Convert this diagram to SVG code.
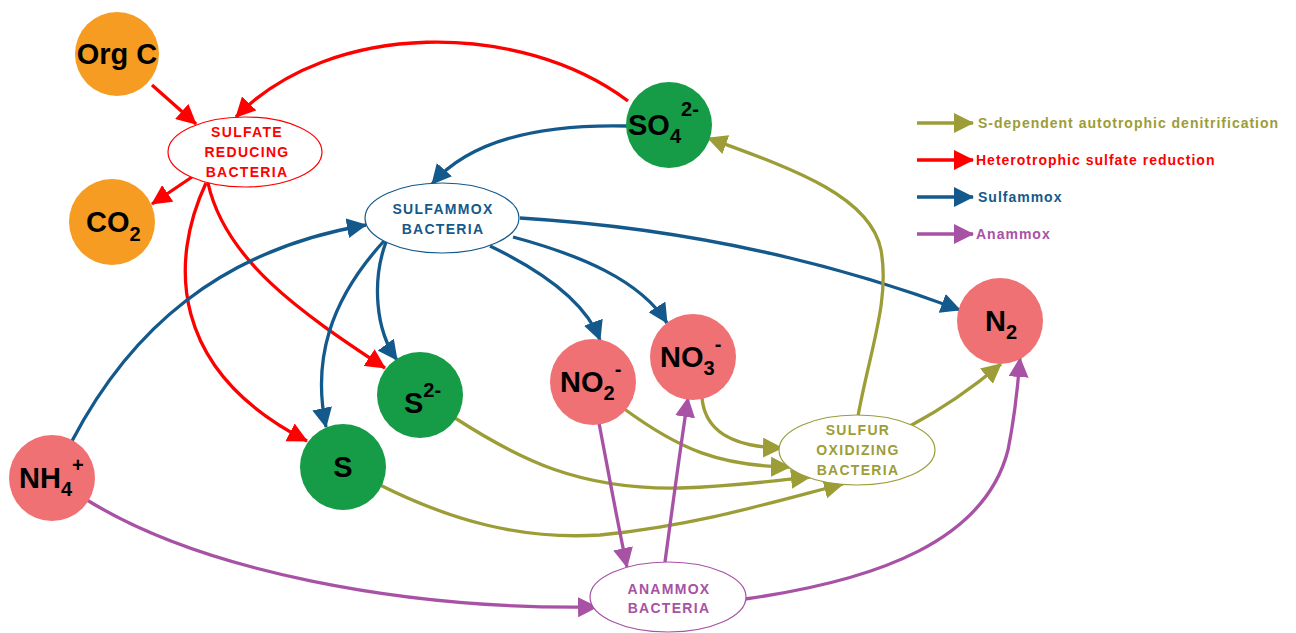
<svg xmlns="http://www.w3.org/2000/svg" width="1296" height="633" viewBox="0 0 1296 633">
<style>
.c{fill:none;stroke-width:3.3}
.red{stroke:#FF0000}
.blue{stroke:#14598B}
.olive{stroke:#9C9D37}
.purple{stroke:#A752A5}
.big{font-family:"Liberation Sans",Arial,sans-serif;font-weight:bold;font-size:29px;fill:#000}
.sub{font-size:20px}
.lab{font-family:"Liberation Sans",Arial,sans-serif;font-weight:bold;font-size:14px;letter-spacing:1.3px;text-anchor:middle}
.leg{font-family:"Liberation Sans",Arial,sans-serif;font-weight:bold;font-size:14px;letter-spacing:1px}
.orange{fill:#F69C22}
.green{fill:#169C47}
.pink{fill:#F07173}
</style>
<defs>
<marker id="aR" viewBox="0 0 20 20" refX="19" refY="10" markerWidth="20" markerHeight="20" markerUnits="userSpaceOnUse" orient="auto"><path d="M0,0 L20,10 L0,20 z" fill="#FF0000"/></marker>
<marker id="aB" viewBox="0 0 20 20" refX="19" refY="10" markerWidth="20" markerHeight="20" markerUnits="userSpaceOnUse" orient="auto"><path d="M0,0 L20,10 L0,20 z" fill="#14598B"/></marker>
<marker id="aO" viewBox="0 0 20 20" refX="19" refY="10" markerWidth="20" markerHeight="20" markerUnits="userSpaceOnUse" orient="auto"><path d="M0,0 L20,10 L0,20 z" fill="#9C9D37"/></marker>
<marker id="aP" viewBox="0 0 20 20" refX="19" refY="10" markerWidth="20" markerHeight="20" markerUnits="userSpaceOnUse" orient="auto"><path d="M0,0 L20,10 L0,20 z" fill="#A752A5"/></marker>
</defs>
<rect width="1296" height="633" fill="#fff"/>

<g id="connectors">
<!-- red -->
<path class="c red" d="M152,85 L196,124" marker-end="url(#aR)"/>
<path class="c red" d="M628,101 C520,20 330,20 236,117" marker-end="url(#aR)"/>
<path class="c red" d="M192,177 L152,204" marker-end="url(#aR)"/>
<path class="c red" d="M206,183 C170,260 168,370 307,441" marker-end="url(#aR)"/>
<path class="c red" d="M208,183 C225,260 300,312 385,368" marker-end="url(#aR)"/>
<!-- blue -->
<path class="c blue" d="M627,126 C540,124 470,140 432,184" marker-end="url(#aB)"/>
<path class="c blue" d="M72,441 C130,330 220,250 366,225" marker-end="url(#aB)"/>
<path class="c blue" d="M384,241 C330,300 312,360 326,427" marker-end="url(#aB)"/>
<path class="c blue" d="M386,242 C372,280 375,330 397,360" marker-end="url(#aB)"/>
<path class="c blue" d="M490,246 C540,270 585,300 600,340" marker-end="url(#aB)"/>
<path class="c blue" d="M513,237 C580,255 640,280 667,323" marker-end="url(#aB)"/>
<path class="c blue" d="M520,218 C650,226 800,250 960,310" marker-end="url(#aB)"/>
<!-- olive -->
<path class="c olive" d="M858,416 C870,350 890,300 881,250 C870,195 790,168 708,138" marker-end="url(#aO)"/>
<path class="c olive" d="M455,418 C520,460 580,490 680,488 C740,486 780,480 810,477" marker-end="url(#aO)"/>
<path class="c olive" d="M380,485 C450,520 520,540 600,535 C700,525 780,500 843,484" marker-end="url(#aO)"/>
<path class="c olive" d="M702,398 C705,430 730,447 782,448" marker-end="url(#aO)"/>
<path class="c olive" d="M623,408 C680,450 720,466 790,467" marker-end="url(#aO)"/>
<path class="c olive" d="M910,426 C940,410 970,390 1001,364" marker-end="url(#aO)"/>
<!-- purple -->
<path class="c purple" d="M87,500 C200,570 400,610 597,607" marker-end="url(#aP)"/>
<path class="c purple" d="M599,423 C608,470 617,520 627,567" marker-end="url(#aP)"/>
<path class="c purple" d="M665,562 C672,510 680,450 688,398" marker-end="url(#aP)"/>
<path class="c purple" d="M745,599 C880,580 985,540 1008,450 C1015,415 1018,385 1020,358" marker-end="url(#aP)"/>
</g>

<g id="orgc"><circle class="orange" cx="117" cy="54" r="42"/><text class="big" x="117" y="64" text-anchor="middle">Org C</text></g>
<g id="co2"><circle class="orange" cx="112" cy="222" r="43"/><text class="big" x="86" y="232">CO<tspan class="sub" dy="9">2</tspan></text></g>
<g id="srb"><ellipse cx="245" cy="152" rx="77" ry="35" fill="#fff" stroke="#FF0000" stroke-width="1.2"/>
<text class="lab" fill="#FF0000" x="247" y="137">SULFATE</text>
<text class="lab" fill="#FF0000" x="247" y="157">REDUCING</text>
<text class="lab" fill="#FF0000" x="247" y="177">BACTERIA</text></g>
<g id="so4"><circle class="green" cx="669" cy="125" r="43"/><text class="big" x="628" y="135">SO<tspan class="sub" dy="8">4</tspan><tspan class="sub" dy="-27">2-</tspan></text></g>
<g id="sulfammox"><ellipse cx="442" cy="218" rx="77" ry="35" fill="#fff" stroke="#14598B" stroke-width="1.2"/>
<text class="lab" fill="#14598B" x="443" y="214">SULFAMMOX</text>
<text class="lab" fill="#14598B" x="443" y="234">BACTERIA</text></g>
<g id="nh4"><circle class="pink" cx="52" cy="478" r="43"/><text class="big" x="19" y="488">NH<tspan class="sub" dy="8">4</tspan><tspan class="sub" dy="-24">+</tspan></text></g>
<g id="s"><circle class="green" cx="343" cy="467" r="43"/><text class="big" x="343" y="477" text-anchor="middle">S</text></g>
<g id="s2"><circle class="green" cx="420" cy="395" r="43"/><text class="big" x="404" y="413">S<tspan class="sub" dy="-16">2-</tspan></text></g>
<g id="no2"><circle class="pink" cx="593" cy="382" r="43"/><text class="big" x="560" y="392">NO<tspan class="sub" dy="8">2</tspan><tspan class="sub" dy="-24">-</tspan></text></g>
<g id="no3"><circle class="pink" cx="693" cy="357" r="43"/><text class="big" x="660" y="367">NO<tspan class="sub" dy="8">3</tspan><tspan class="sub" dy="-24">-</tspan></text></g>
<g id="n2"><circle class="pink" cx="1000" cy="321" r="43"/><text class="big" x="985" y="331">N<tspan class="sub" dy="8">2</tspan></text></g>
<g id="sob"><ellipse cx="857" cy="450" rx="78" ry="35" fill="#fff" stroke="#9C9D37" stroke-width="1.2"/>
<text class="lab" fill="#9C9D37" x="858" y="435">SULFUR</text>
<text class="lab" fill="#9C9D37" x="858" y="455">OXIDIZING</text>
<text class="lab" fill="#9C9D37" x="858" y="475">BACTERIA</text></g>
<g id="anammox"><ellipse cx="668" cy="597" rx="78" ry="35" fill="#fff" stroke="#A752A5" stroke-width="1.2"/>
<text class="lab" fill="#A752A5" x="669" y="594">ANAMMOX</text>
<text class="lab" fill="#A752A5" x="669" y="613">BACTERIA</text></g>

<g id="legend">
<path class="c olive" d="M917,123 L973,123" marker-end="url(#aO)"/>
<text class="leg" fill="#9C9D37" x="978" y="128">S-dependent autotrophic denitrification</text>
<path class="c red" d="M917,160 L973,160" marker-end="url(#aR)"/>
<text class="leg" fill="#FF0000" x="976" y="165">Heterotrophic sulfate reduction</text>
<path class="c blue" d="M917,197 L973,197" marker-end="url(#aB)"/>
<text class="leg" fill="#14598B" x="978" y="202">Sulfammox</text>
<path class="c purple" d="M917,234 L973,234" marker-end="url(#aP)"/>
<text class="leg" fill="#A752A5" x="976" y="239">Anammox</text>
</g>
</svg>
